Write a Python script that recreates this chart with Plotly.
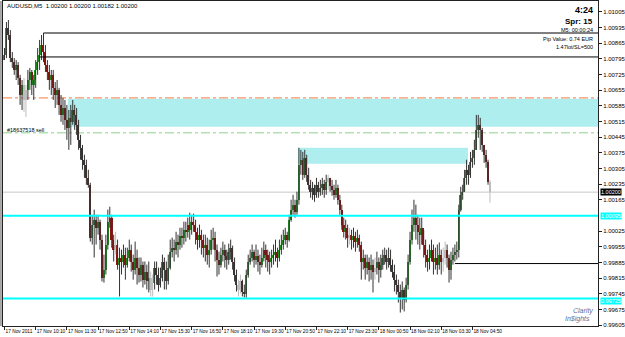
import plotly.graph_objects as go

# ---- data (prices in 1e-5 units) ----
first_open = 100790
close_p = [100813,100933,100902,100799,100781,100746,100768,100710,100634,100679,
           100612,100657,100701,100737,100679,100701,100746,100781,100813,100857,
           100826,100768,100737,100701,100724,100666,100634,100657,100590,100545,
           100576,100523,100487,100532,100514,100567,100545,100501,100434,100398,
           100345,100322,100264,100233,99997,100055,100077,100041,100068,99988,
           99818,99854,99966,100068,100086,99988,99943,99966,99876,99908,
           99890,99921,99876,99908,99943,99890,99854,99908,99863,99832,
           99876,99809,99845,99801,99818,99765,99792,99863,99832,99787,
           99818,99890,99854,99801,99863,99934,99952,99943,99979,99966,
           100006,99997,100032,100023,100055,100032,100068,100055,100023,99988,
           100010,99988,99952,99966,99921,99943,99988,99997,99943,99899,
           99876,99921,99943,99916,99899,99934,99952,99890,99832,99787,
           99765,99801,99756,99747,99832,99890,99908,99934,99899,99916,
           99890,99876,99908,99943,99921,99899,99890,99908,99921,99934,
           99908,99943,99966,99988,100010,99988,100077,100122,100144,100113,
           100166,100322,100345,100278,100353,100278,100233,100202,100220,100188,
           100233,100202,100220,100238,100211,100246,100264,100229,100211,100188,
           100220,100166,100122,100055,100023,100041,99997,100010,99988,100006,
           99979,99997,99966,99890,99908,99863,99890,99854,99876,99845,
           99863,99890,99854,99876,99908,99921,99890,99908,99876,99845,
           99809,99787,99756,99729,99765,99720,99787,99890,99988,100055,
           100086,100055,100023,100010,100041,99966,99921,99890,99908,99943,
           99890,99908,99876,99921,99890,99908,99943,99908,99854,99899,
           99921,99934,99943,100122,100188,100202,100264,100300,100278,100336,
           100353,100389,100478,100501,100478,100411,100367,100336,100246,100200]
high_p = [100844,100960,100969,100924,100826,100799,100790,100781,100724,100701,
          100710,100679,100746,100755,100746,100724,100790,100844,100880,100902,
          100911,100857,100790,100768,100746,100746,100692,100701,100666,100634,
          100621,100612,100590,100567,100590,100612,100590,100576,100523,100456,
          100411,100367,100345,100300,100242,100099,100122,100099,100099,100077,
          100010,99921,100010,100122,100135,100099,100010,100023,99988,99952,
          99943,99966,99952,99952,99988,99966,99921,99979,99943,99908,
          99908,99890,99890,99876,99890,99845,99832,99890,99890,99863,
          99863,99921,99908,99890,99921,99988,99997,99988,100023,100010,
          100041,100041,100068,100068,100086,100108,100099,100104,100077,100041,
          100055,100032,100010,100010,99997,99988,100032,100041,100023,99966,
          99934,99952,99979,99966,99943,99970,99988,99961,99908,99854,
          99809,99832,99809,99787,99854,99921,99943,99966,99943,99966,
          99943,99921,99952,99979,99966,99943,99934,99943,99966,99988,
          99952,99988,100010,100032,100041,100023,100099,100166,100188,100166,
          100202,100398,100389,100380,100389,100367,100309,100255,100246,100233,
          100264,100246,100255,100264,100255,100278,100278,100264,100255,100233,
          100255,100233,100188,100144,100086,100077,100055,100041,100032,100041,
          100023,100032,100010,99979,99943,99921,99921,99908,99921,99899,
          99908,99934,99908,99921,99943,99952,99943,99952,99943,99899,
          99876,99832,99809,99787,99801,99774,99818,99921,100023,100122,
          100166,100144,100099,100086,100086,100032,99988,99943,99966,99988,
          99966,99952,99966,99975,99943,99952,99979,99966,99921,99934,
          99952,99966,99979,100144,100224,100233,100300,100345,100322,100380,
          100389,100434,100545,100545,100532,100487,100411,100389,100345,100255]
low_p = [100790,100799,100880,100781,100755,100724,100701,100679,100590,100567,
         100559,100536,100612,100657,100634,100612,100666,100724,100746,100790,
         100781,100737,100701,100657,100634,100612,100576,100590,100545,100514,
         100501,100478,100434,100389,100411,100501,100478,100456,100389,100345,
         100300,100264,100233,100220,99979,99966,99908,99966,100010,99943,
         99801,99796,99832,99943,100041,99952,99890,99921,99854,99734,
         99832,99863,99809,99863,99890,99845,99809,99832,99787,99796,
         99801,99774,99787,99765,99752,99734,99734,99765,99787,99756,
         99774,99801,99765,99765,99787,99854,99908,99890,99921,99908,
         99943,99952,99966,99979,99997,99988,100010,100023,99966,99943,
         99952,99921,99908,99890,99876,99863,99921,99943,99890,99823,
         99832,99863,99890,99863,99854,99876,99899,99854,99801,99756,
         99734,99747,99734,99729,99729,99818,99876,99890,99863,99876,
         99845,99832,99863,99890,99863,99845,99832,99863,99876,99890,
         99863,99890,99921,99943,99966,99952,99979,100068,100099,100086,
         100099,100144,100278,100255,100264,100246,100211,100175,100166,100157,
         100175,100175,100184,100188,100175,100188,100211,100202,100184,100166,
         100175,100144,100099,100032,99997,99988,99952,99966,99943,99952,
         99934,99952,99934,99809,99854,99809,99832,99801,99809,99752,
         99809,99832,99796,99818,99854,99876,99854,99863,99845,99818,
         99756,99743,99707,99662,99676,99667,99707,99765,99876,99966,
         100023,99988,99966,99943,99966,99908,99863,99845,99854,99890,
         99832,99854,99832,99854,99832,99845,99876,99863,99796,99809,
         99876,99890,99899,99908,100113,100166,100202,100233,100233,100264,
         100309,100322,100389,100443,100389,100380,100331,100309,100233,100153]
gray_bars = [10, 11, 57, 75, 76, 120, 121, 166, 177, 190, 225, 226, 249]

x_labels = ["17 Nov 2011", "17 Nov 10:10", "17 Nov 11:30", "17 Nov 12:50",
            "17 Nov 14:10", "17 Nov 15:30", "17 Nov 16:50", "17 Nov 18:10",
            "17 Nov 19:30", "17 Nov 20:50", "17 Nov 22:10", "17 Nov 23:30",
            "18 Nov 00:50", "18 Nov 02:10", "18 Nov 03:30", "18 Nov 04:50"]
x_label_bars = [0, 16, 32, 48, 64, 80, 96, 112, 128, 144, 160, 176, 192, 208, 224, 240]

# levels
bid = 1.00200
cyan_levels = [1.00095, 0.99725]
orange_level = 1.00621
green_level = 1.00465
black_lines = [(20, 1.00911), (18, 1.00804), (231, 0.99881)]
zone_big = (32.6, 1.00617, 1.00492)
zone_small = (150.5, 237.7, 1.00398, 1.00327)
y_tick_start, y_tick_step, y_tick_count = 0.99605, 0.0007, 21

S = 1e5
c = [v / S for v in close_p]
h = [v / S for v in high_p]
l = [v / S for v in low_p]
o = [first_open / S] + c[:-1]
n = len(c)
idx = list(range(n))

XMIN, XMAX = -0.77, 304.4
YMIN, YMAX = 0.99602, 1.01054

GREEN, RED, GRAY = "#1c9a1c", "#8c1414", "#bdbdbd"
colors = []
for i in idx:
    if i in gray_bars:
        colors.append(GRAY)
    elif c[i] >= o[i]:
        colors.append(GREEN)
    else:
        colors.append(RED)

wx, wy, gx, gy = [], [], [], []
for i in idx:
    if i in gray_bars:
        gx += [i, i, None]; gy += [l[i], h[i], None]
    else:
        wx += [i, i, None]; wy += [l[i], h[i], None]

base = [min(o[i], c[i]) for i in idx]
hgt = [max(abs(c[i] - o[i]), 0.000015) for i in idx]

fig = go.Figure()
fig.add_trace(go.Scatter(x=wx, y=wy, mode="lines", line=dict(color="#333333", width=1),
                         hoverinfo="skip", showlegend=False))
fig.add_trace(go.Scatter(x=gx, y=gy, mode="lines", line=dict(color=GRAY, width=1),
                         hoverinfo="skip", showlegend=False))
fig.add_trace(go.Bar(x=idx, y=hgt, base=base, width=0.8, marker=dict(color=colors, line=dict(width=0)),
                     hoverinfo="skip", showlegend=False))

shapes = []
shapes.append(dict(type="rect", xref="x", yref="y", x0=zone_big[0], x1=XMAX, y0=zone_big[2], y1=zone_big[1],
                   fillcolor="#afeeee", line=dict(width=0), layer="below"))
shapes.append(dict(type="rect", xref="x", yref="y", x0=zone_small[0], x1=zone_small[1], y0=zone_small[3], y1=zone_small[2],
                   fillcolor="#afeeee", line=dict(width=0), layer="below"))
shapes.append(dict(type="line", xref="x", yref="y", x0=XMIN, x1=XMAX, y0=bid, y1=bid,
                   line=dict(color="#c8c8c8", width=1), layer="below"))
shapes.append(dict(type="line", xref="x", yref="y", x0=XMIN, x1=XMAX, y0=orange_level, y1=orange_level,
                   line=dict(color="#f57a3d", width=1, dash="dashdot"), layer="below"))
shapes.append(dict(type="line", xref="x", yref="y", x0=XMIN, x1=XMAX, y0=green_level, y1=green_level,
                   line=dict(color="#8fcf8f", width=1, dash="dashdot"), layer="below"))
for lv in cyan_levels:
    shapes.append(dict(type="line", xref="x", yref="y", x0=XMIN, x1=XMAX, y0=lv, y1=lv,
                       line=dict(color="#00ffff", width=2), layer="above"))
for xs, lv in black_lines:
    shapes.append(dict(type="line", xref="x", yref="y", x0=xs, x1=XMAX, y0=lv, y1=lv,
                       line=dict(color="#000000", width=1), layer="above"))
shapes.append(dict(type="line", xref="paper", yref="paper", x0=-0.0034, x1=-0.0034, y0=0, y1=1,
                    line=dict(color="#555555", width=1)))

FONT = "Liberation Sans"
ann = []
def txt(text, x, xanchor, px, size=6, bold=False, color="#000000", italic=False):
    t = text
    if bold:
        t = "<b>" + t + "</b>"
    if italic:
        t = "<i>" + t + "</i>"
    ann.append(dict(text=t, xref="paper", yref="paper", x=x, y=1, xanchor=xanchor, yanchor="middle",
                    yshift=-(px - 1), showarrow=False, font=dict(family=FONT, size=size, color=color)))

txt("AUDUSD,M5  1.00200 1.00200 1.00182 1.00200", 0.004, "left", 6, 6)
txt("4:24", 0.995, "right", 10, 9, bold=True)
txt("Spr: 15", 0.995, "right", 21, 8, bold=True)
txt("M5: 00:00:24", 0.995, "right", 30, 5.5)
txt("Pip Value: 0.74 EUR", 0.995, "right", 39, 5.5)
txt("1.47lot/SL=500", 0.995, "right", 47, 5.5)
txt("#18637518 sell", 0.003, "left", 130, 5.5)
txt("Clarity", 0.995, "right", 311, 7, color="#5b6f99", italic=True)
txt("In$ights", 0.99, "right", 319, 7, color="#5b6f99", italic=True)

# price tick values on the right axis; the level boxes replace the tick they cover
ytv = [round(y_tick_start + y_tick_step * k, 5) for k in range(y_tick_count)]
ytv = [v for v in ytv if abs(v - cyan_levels[0]) > 1e-6]

for val, bg, ys in [(bid, "#000000", 0), (cyan_levels[0], "#00ffff", 0), (cyan_levels[1], "#00ffff", -3)]:
    ann.append(dict(text="%.5f" % val, xref="paper", yref="y", x=1, y=val, xanchor="left", yanchor="middle",
                    xshift=2, yshift=ys, showarrow=False, bgcolor=bg, borderpad=0,
                    font=dict(family=FONT, size=5.5, color="#ffffff")))

fig.update_layout(
    width=625, height=337,
    margin=dict(l=3, r=27, t=1, b=11, autoexpand=False),
    paper_bgcolor="#ffffff", plot_bgcolor="#ffffff",
    shapes=shapes, annotations=ann, showlegend=False,
    bargap=0,
    xaxis=dict(range=[XMIN, XMAX], showgrid=False, zeroline=False, showline=True, linecolor="#222222",
               linewidth=1, mirror=True, tickmode="array", tickvals=x_label_bars, ticktext=x_labels,
               ticks="outside", ticklen=3, tickcolor="#222222", ticklabelposition="outside right",
               tickangle=0, automargin=False,
               tickfont=dict(family=FONT, size=4.8, color="#000000")),
    yaxis=dict(range=[YMIN, YMAX], side="right", showgrid=False, zeroline=False, showline=True,
               linecolor="#222222", linewidth=1, mirror=True, tickmode="array", tickvals=ytv,
               ticktext=["%.5f" % v for v in ytv], ticks="outside", ticklen=3, tickcolor="#222222",
               automargin=False,
               tickfont=dict(family=FONT, size=6, color="#000000")),
)

fig.write_html("out.html")
